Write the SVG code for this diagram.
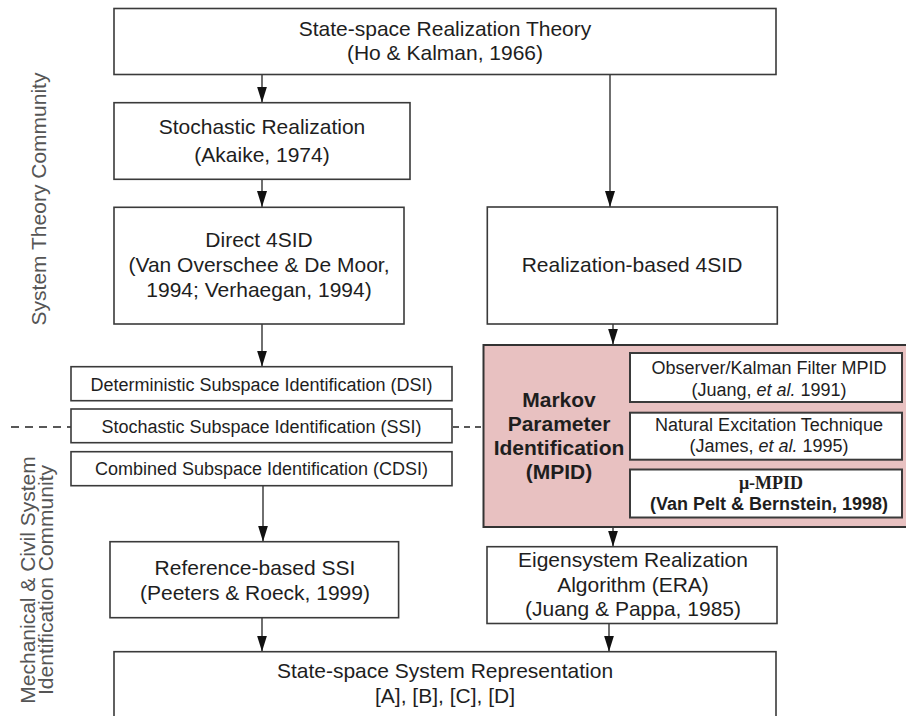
<svg xmlns="http://www.w3.org/2000/svg" width="906" height="716" viewBox="0 0 906 716">
<defs>
<marker id="ah" viewBox="0 0 16 10" refX="16" refY="5" markerWidth="16" markerHeight="10" markerUnits="userSpaceOnUse" orient="auto">
<path d="M0,0 L16,5 L0,10 z" fill="#111"/>
</marker>
</defs>
<style>
.box{fill:#fff;stroke:#3a3a3a;stroke-width:1.6}
.pink{fill:#e8c1c1;stroke:#333;stroke-width:2}
.t{font-family:"Liberation Sans",Arial,sans-serif;font-size:21px;fill:#1e1e1e;text-anchor:middle}
.s{font-family:"Liberation Sans",Arial,sans-serif;font-size:18px;fill:#1e1e1e;text-anchor:middle}
.b{font-family:"Liberation Sans",Arial,sans-serif;font-size:21px;font-weight:bold;fill:#1e1e1e;text-anchor:middle}
.sb{font-family:"Liberation Sans",Arial,sans-serif;font-size:18px;font-weight:bold;fill:#1e1e1e;text-anchor:middle}
.mu{font-family:"Liberation Serif","Times New Roman",serif;font-size:18px;font-weight:bold;fill:#1e1e1e;text-anchor:middle}
.side{font-family:"Liberation Sans",Arial,sans-serif;font-size:21px;fill:#555;text-anchor:middle}
.c{stroke:#222;stroke-width:1.3;fill:none}
.d{stroke:#222;stroke-width:1.3;fill:none;stroke-dasharray:8,6}
</style>

<g id="side-labels">
<text class="side" transform="translate(46,199) rotate(-90)">System Theory Community</text>
<text class="side" transform="translate(35,580) rotate(-90)">Mechanical &amp; Civil System</text>
<text class="side" transform="translate(53,580) rotate(-90)">Identification Community</text>
</g>

<g id="connectors">
<line class="c" x1="262" y1="74.5" x2="262" y2="102.5" marker-end="url(#ah)"/>
<line class="c" x1="262" y1="179.5" x2="262" y2="207" marker-end="url(#ah)"/>
<line class="c" x1="610" y1="74.5" x2="610" y2="207" marker-end="url(#ah)"/>
<line class="c" x1="262" y1="324" x2="262" y2="366.5" marker-end="url(#ah)"/>
<line class="c" x1="613" y1="324" x2="613" y2="344.5" marker-end="url(#ah)"/>
<line class="c" x1="263" y1="485.7" x2="263" y2="541.5" marker-end="url(#ah)"/>
<line class="c" x1="613" y1="527" x2="613" y2="546.5" marker-end="url(#ah)"/>
<line class="c" x1="262" y1="618" x2="262" y2="651.5" marker-end="url(#ah)"/>
<line class="c" x1="609" y1="623.5" x2="609" y2="651.5" marker-end="url(#ah)"/>
<line class="d" x1="11" y1="427" x2="71" y2="427"/>
<line class="d" x1="453" y1="427" x2="483" y2="427" style="stroke-dasharray:6,5"/>
</g>

<g id="n-top">
<rect class="box" x="114" y="8.5" width="662" height="66"/>
<text class="t" x="445" y="36">State-space Realization Theory</text>
<text class="t" x="445" y="60">(Ho &amp; Kalman, 1966)</text>
</g>

<g id="n-stochastic">
<rect class="box" x="114" y="102.7" width="296" height="76.6"/>
<text class="t" x="262" y="134">Stochastic Realization</text>
<text class="t" x="262" y="162">(Akaike, 1974)</text>
</g>

<g id="n-direct4sid">
<rect class="box" x="114" y="207.3" width="290" height="116.7"/>
<text class="t" x="259" y="247">Direct 4SID</text>
<text class="t" x="259" y="272">(Van Overschee &amp; De Moor,</text>
<text class="t" x="259" y="297">1994; Verhaegan, 1994)</text>
</g>

<g id="n-realization4sid">
<rect class="box" x="487.3" y="207" width="290" height="117"/>
<text class="t" x="632" y="272">Realization-based 4SID</text>
</g>

<g id="n-dsi">
<rect class="box" x="71" y="366.7" width="381" height="34"/>
<text class="s" x="261.5" y="391">Deterministic Subspace Identification (DSI)</text>
</g>

<g id="n-ssi">
<rect class="box" x="71" y="409" width="381" height="33.7"/>
<text class="s" x="261.5" y="432.5">Stochastic Subspace Identification (SSI)</text>
</g>

<g id="n-cdsi">
<rect class="box" x="71" y="451.7" width="381" height="34"/>
<text class="s" x="261.5" y="475">Combined Subspace Identification (CDSI)</text>
</g>

<g id="n-mpid">
<rect class="pink" x="483.5" y="345" width="430" height="182"/>
<text class="b" x="559" y="407">Markov</text>
<text class="b" x="559" y="431">Parameter</text>
<text class="b" x="559" y="455">Identification</text>
<text class="b" x="559" y="479">(MPID)</text>
</g>

<g id="n-okid">
<rect class="box" x="630" y="353" width="272" height="49" style="stroke-width:2"/>
<text class="s" x="769" y="373.5">Observer/Kalman Filter MPID</text>
<text class="s" x="769" y="395.5">(Juang, <tspan font-style="italic">et al.</tspan> 1991)</text>
</g>

<g id="n-next">
<rect class="box" x="630" y="412.7" width="272" height="47" style="stroke-width:2"/>
<text class="s" x="769" y="431">Natural Excitation Technique</text>
<text class="s" x="769" y="452">(James, <tspan font-style="italic">et al.</tspan> 1995)</text>
</g>

<g id="n-mumpid">
<rect class="box" x="630" y="469.5" width="272" height="48" style="stroke-width:2"/>
<text class="mu" x="771" y="488.5">μ-MPID</text>
<text class="sb" x="769" y="510">(Van Pelt &amp; Bernstein, 1998)</text>
</g>

<g id="n-refssi">
<rect class="box" x="110" y="541.7" width="288.6" height="76"/>
<text class="t" x="255" y="575">Reference-based SSI</text>
<text class="t" x="255" y="600">(Peeters &amp; Roeck, 1999)</text>
</g>

<g id="n-era">
<rect class="box" x="487" y="546.7" width="290" height="76.8"/>
<text class="t" x="633" y="567">Eigensystem Realization</text>
<text class="t" x="633" y="592">Algorithm (ERA)</text>
<text class="t" x="633" y="616">(Juang &amp; Pappa, 1985)</text>
</g>

<g id="n-statespace">
<rect class="box" x="114" y="651.7" width="662" height="80"/>
<text class="t" x="445" y="678">State-space System Representation</text>
<text class="t" x="445" y="703">[A], [B], [C], [D]</text>
</g>
</svg>
